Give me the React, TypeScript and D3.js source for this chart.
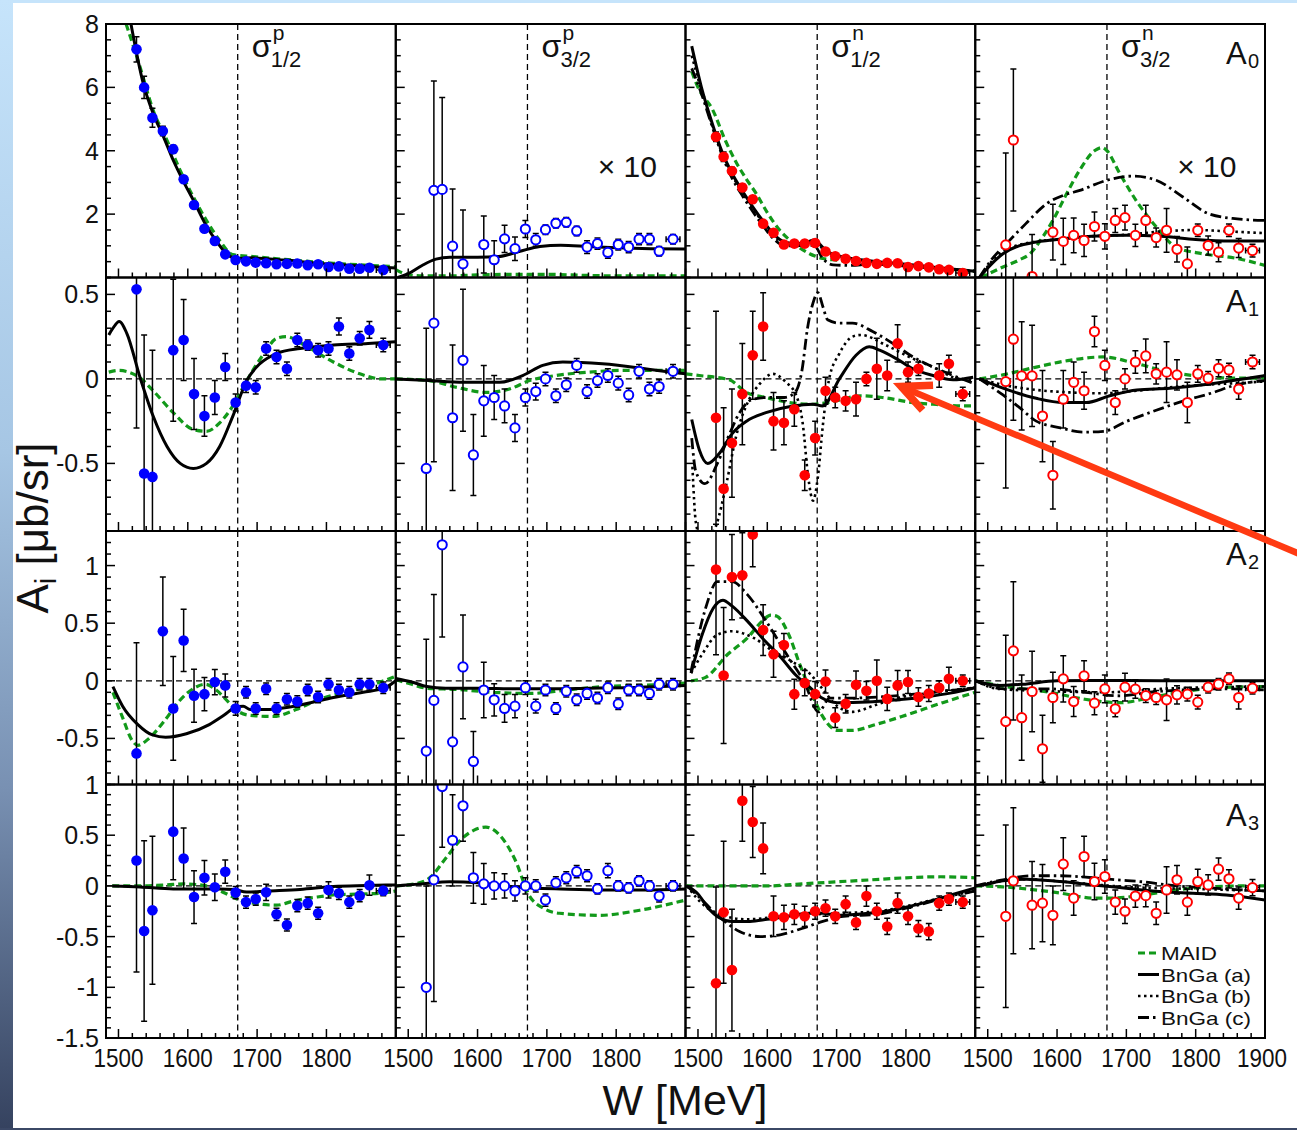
import React from "react";
import * as d3 from "d3";

// ---------- shared axes ----------
const W_BINS = [1526, 1537, 1549, 1564, 1579, 1594, 1609, 1624, 1639, 1654, 1669, 1684, 1698, 1713, 1728, 1743, 1758, 1773, 1788, 1803, 1818, 1833, 1848, 1862, 1882];
const W_HALF = [0, 0, 0, 0, 0, 0, 0, 0, 0, 0, 0, 0, 0, 0, 0, 0, 0, 0, 0, 0, 0, 0, 0, 0, 10];
const W_DOMAIN = [1482, 1900];
const THRESHOLD_W = 1672;
const X_MAJOR = [1500, 1600, 1700, 1800, 1900];
const X_MINOR_STEP = 20;

const ROW_DOMAINS = [[0, 8], [-0.9, 0.6], [-0.9, 1.3], [-1.5, 1.0]];
const ROW_MAJOR = [[2, 4, 6, 8], [-0.5, 0, 0.5], [-0.5, 0, 0.5, 1], [-1.5, -1, -0.5, 0, 0.5, 1]];
const ROW_MAJOR_LABELS = [["2", "4", "6", "8"], ["-0.5", "0", "0.5"], ["-0.5", "0", "0.5", "1"], ["-1.5", "-1", "-0.5", "0", "0.5", "1"]];
const ROW_MINOR_STEP = [0.5, 0.1, 0.1, 0.1];
const ROW_NAMES = ["A", "A", "A", "A"];
const ROW_INDEX = ["0", "1", "2", "3"];

const COL_SUP = ["p", "p", "n", "n"];
const COL_SUB = ["1/2", "3/2", "1/2", "3/2"];
const COL_COLORS = ["#0000ff", "#0000ff", "#ff0000", "#ff0000"];
const COL_FILLED = [true, false, true, false];
const COL_SCALED = [false, true, false, true];

const LEGEND_LABELS = ["MAID", "BnGa (a)", "BnGa (b)", "BnGa (c)"];

// ---------- A0 ----------
const A0_P12 = [7.2, 6.0, 5.04, 4.62, 4.05, 3.1, 2.29, 1.54, 1.15, 0.73, 0.55, 0.51, 0.47, 0.45, 0.42, 0.43, 0.44, 0.39, 0.42, 0.33, 0.35, 0.28, 0.28, 0.31, 0.24];
const A0_P12_ERR = [0.4, 0.35, 0.3, 0.15, 0.12, 0.1, 0.08, 0.07, 0.06, 0.05, 0.05, 0.04, 0.04, 0.04, 0.04, 0.04, 0.04, 0.04, 0.04, 0.04, 0.04, 0.04, 0.04, 0.04, 0.04];
const A0_P32 = [null, 2.75, 2.78, 0.99, 0.43, null, 1.04, 0.56, 1.22, 0.91, 1.53, 1.19, 1.51, 1.71, 1.74, 1.47, 0.96, 1.07, 0.79, 1.04, 0.96, 1.21, 1.21, 0.83, 1.21];
const A0_P32_ERR = [0, 3.45, 2.9, 1.8, 1.7, 0, 0.9, 0.6, 0.43, 0.37, 0.27, 0.2, 0.15, 0.15, 0.15, 0.15, 0.2, 0.18, 0.18, 0.17, 0.18, 0.18, 0.18, 0.15, 0.15];
const A0_N12 = [4.44, 3.81, 3.36, 2.84, 2.47, 1.7, 1.41, 1.04, 1.07, 1.07, 1.09, 0.82, 0.67, 0.59, 0.52, 0.46, 0.43, 0.46, 0.45, 0.33, 0.36, 0.32, 0.26, 0.24, 0.14];
const A0_N12_ERR = [0.15, 0.15, 0.12, 0.1, 0.1, 0.08, 0.07, 0.06, 0.06, 0.05, 0.05, 0.04, 0.04, 0.04, 0.04, 0.04, 0.04, 0.04, 0.04, 0.04, 0.04, 0.04, 0.04, 0.04, 0.04];
const A0_N32 = [1.03, 4.34, null, 0.03, null, 1.43, 1.14, 1.33, 1.17, 1.61, 1.3, 1.8, 1.89, 1.33, 1.8, 1.26, 1.49, 0.89, 0.43, 1.49, 1.01, 0.8, 1.49, 0.93, 0.85];
const A0_N32_ERR = [2.9, 2.24, 0, 1.33, 0, 0.88, 0.73, 0.55, 0.51, 0.46, 0.4, 0.38, 0.39, 0.35, 0.48, 0.3, 0.69, 0.4, 0.53, 0.2, 0.3, 0.3, 0.2, 0.3, 0.2];

const A0_P12_MAID = [[1511, 8.0], [1531, 6.65], [1550, 5.28], [1570, 4.33], [1589, 3.38], [1608, 2.54], [1627, 1.8], [1646, 1.17], [1665, 0.72], [1694, 0.66], [1740, 0.57], [1810, 0.45], [1900, 0.34]];
const A0_P12_A = [[1518, 8.0], [1536, 6.1], [1550, 5.18], [1565, 4.44], [1579, 3.7], [1594, 3.02], [1608, 2.44], [1625, 1.7], [1642, 1.12], [1656, 0.75], [1670, 0.6], [1692, 0.62], [1740, 0.55], [1788, 0.45], [1836, 0.38], [1900, 0.3]];
const A0_P32_MAID = [[1482, 0.25], [1495, 0.12], [1520, 0.05], [1560, 0.05], [1600, 0.08], [1650, 0.1], [1700, 0.1], [1750, 0.07], [1800, 0.05], [1900, 0.05]];
const A0_P32_A = [[1485, 0.0], [1500, 0.12], [1520, 0.38], [1540, 0.58], [1560, 0.64], [1600, 0.64], [1630, 0.66], [1660, 0.82], [1690, 0.98], [1720, 1.02], [1760, 0.98], [1800, 0.94], [1850, 0.91], [1900, 0.9]];
const A0_N12_MAID = [[1491, 6.5], [1500, 6.0], [1521, 5.3], [1540, 4.3], [1556, 3.6], [1570, 3.1], [1584, 2.65], [1600, 2.05], [1618, 1.49], [1640, 1.05], [1661, 0.75], [1680, 0.6], [1700, 0.55], [1750, 0.45], [1800, 0.38], [1850, 0.28], [1900, 0.2]];
const A0_N12_A = [[1491, 7.3], [1505, 6.0], [1520, 4.9], [1535, 3.95], [1550, 3.25], [1565, 2.7], [1580, 2.2], [1595, 1.75], [1610, 1.35], [1625, 1.12], [1640, 1.07], [1655, 1.1], [1668, 1.18], [1680, 0.95], [1690, 0.78], [1710, 0.65], [1750, 0.52], [1800, 0.42], [1850, 0.3], [1900, 0.2]];
const A0_N12_B = [[1491, 7.0], [1505, 5.9], [1520, 4.85], [1535, 3.9], [1550, 3.2], [1565, 2.65], [1580, 2.15], [1595, 1.7], [1610, 1.3], [1625, 1.08], [1640, 1.04], [1655, 1.08], [1668, 1.15], [1680, 0.9], [1690, 0.75], [1710, 0.62], [1750, 0.5], [1800, 0.4], [1850, 0.29], [1900, 0.2]];
const A0_N12_C = [[1491, 6.6], [1505, 5.8], [1520, 4.8], [1535, 3.85], [1550, 3.1], [1565, 2.55], [1580, 2.05], [1595, 1.6], [1610, 1.2], [1625, 1.0], [1640, 1.0], [1655, 1.02], [1668, 1.0], [1680, 0.6], [1695, 0.4], [1720, 0.38], [1750, 0.42], [1800, 0.36], [1850, 0.28], [1900, 0.2]];
const A0_N32_MAID = [[1490, 0.0], [1522, 0.33], [1545, 0.55], [1561, 0.75], [1580, 1.3], [1594, 1.8], [1614, 2.65], [1633, 3.4], [1654, 4.0], [1665, 4.1], [1672, 4.0], [1690, 3.3], [1715, 2.4], [1743, 1.6], [1772, 0.95], [1810, 0.75], [1860, 0.6], [1900, 0.38]];
const A0_N32_A = [[1488, 0.0], [1500, 0.3], [1522, 0.75], [1545, 1.0], [1565, 1.1], [1600, 1.2], [1650, 1.3], [1700, 1.33], [1750, 1.3], [1800, 1.2], [1850, 1.15], [1900, 1.15]];
const A0_N32_B = [[1488, 0.0], [1520, 0.8], [1560, 1.1], [1600, 1.2], [1650, 1.3], [1700, 1.35], [1750, 1.45], [1800, 1.5], [1850, 1.45], [1900, 1.4]];
const A0_N32_C = [[1488, 0.0], [1505, 0.55], [1527, 1.07], [1555, 1.7], [1585, 2.33], [1610, 2.6], [1633, 2.75], [1672, 3.07], [1710, 3.2], [1743, 3.07], [1781, 2.55], [1820, 2.0], [1860, 1.85], [1900, 1.8]];

// ---------- A1 ----------
const A1_P12 = [0.53, -0.56, -0.58, null, 0.17, 0.23, -0.09, -0.22, -0.11, 0.07, -0.14, -0.04, -0.05, 0.18, 0.13, 0.06, 0.23, 0.2, 0.17, 0.18, 0.31, 0.15, 0.24, 0.29, 0.2];
const A1_P12_ERR = [0.82, 0.82, 0.75, 0, 0.42, 0.24, 0.21, 0.12, 0.1, 0.08, 0.05, 0.04, 0.04, 0.04, 0.04, 0.04, 0.04, 0.03, 0.04, 0.04, 0.05, 0.04, 0.04, 0.05, 0.04];
const A1_P32 = [-0.53, 0.33, null, -0.23, 0.11, -0.45, -0.13, -0.11, -0.16, -0.29, -0.11, -0.075, 0.0, -0.1, -0.035, 0.08, -0.075, -0.01, 0.02, -0.025, -0.095, 0.045, -0.06, -0.045, 0.045];
const A1_P32_ERR = [0.83, 0.82, 0, 0.43, 0.42, 0.24, 0.21, 0.13, 0.1, 0.08, 0.05, 0.05, 0.04, 0.04, 0.04, 0.04, 0.04, 0.04, 0.04, 0.04, 0.04, 0.04, 0.04, 0.04, 0.04];
const A1_N12 = [-0.23, -0.65, -0.38, -0.09, 0.14, 0.31, -0.25, -0.26, -0.18, -0.57, -0.35, -0.07, -0.11, -0.13, -0.12, 0.0, 0.06, 0.02, 0.21, 0.04, 0.06, null, 0.02, 0.09, -0.09];
const A1_N12_ERR = [0.63, 0.48, 0.32, 0.3, 0.26, 0.2, 0.17, 0.13, 0.1, 0.09, 0.1, 0.08, 0.06, 0.06, 0.1, 0.04, 0.18, 0.09, 0.11, 0.06, 0.04, 0, 0.07, 0.05, 0.04];
const A1_N32 = [-0.016, 0.235, 0.018, 0.018, -0.22, -0.57, -0.12, -0.02, -0.07, 0.28, 0.08, -0.14, 0.0, 0.1, 0.136, 0.03, 0.04, 0.024, -0.14, 0.03, 0.004, 0.063, 0.053, -0.06, 0.1];
const A1_N32_ERR = [0.63, 0.48, 0.32, 0.3, 0.27, 0.2, 0.17, 0.12, 0.11, 0.09, 0.09, 0.07, 0.06, 0.066, 0.1, 0.06, 0.18, 0.09, 0.12, 0.05, 0.04, 0.05, 0.04, 0.06, 0.04];

const A1_P12_MAID = [[1486, 0.04], [1500, 0.05], [1515, 0.04], [1530, 0.01], [1550, -0.07], [1579, -0.2], [1608, -0.3], [1627, -0.31], [1646, -0.26], [1665, -0.16], [1685, -0.01], [1710, 0.15], [1728, 0.24], [1742, 0.25], [1772, 0.19], [1810, 0.1], [1848, 0.03], [1880, 0.0], [1900, 0.0]];
const A1_P12_A = [[1486, 0.26], [1492, 0.3], [1501, 0.34], [1512, 0.27], [1531, 0.01], [1550, -0.22], [1570, -0.4], [1589, -0.5], [1608, -0.53], [1627, -0.5], [1646, -0.4], [1665, -0.22], [1685, -0.01], [1704, 0.09], [1728, 0.15], [1762, 0.18], [1810, 0.2], [1860, 0.21], [1900, 0.22]];
const A1_P32_MAID = [[1482, 0.0], [1530, -0.01], [1570, -0.05], [1613, -0.08], [1646, -0.06], [1675, -0.01], [1713, 0.02], [1760, 0.04], [1808, 0.05], [1900, 0.05]];
const A1_P32_A = [[1482, 0.0], [1530, -0.01], [1580, -0.02], [1632, -0.02], [1665, 0.02], [1694, 0.08], [1723, 0.1], [1780, 0.09], [1860, 0.05], [1900, 0.03]];
const A1_N12_MAID = [[1482, 0.03], [1502, 0.02], [1545, -0.005], [1570, -0.08], [1598, -0.11], [1632, -0.14], [1666, -0.15], [1699, -0.13], [1733, -0.1], [1766, -0.11], [1810, -0.14], [1839, -0.15], [1887, -0.16], [1900, -0.16]];
const A1_N12_A = [[1491, -0.24], [1502, -0.42], [1514, -0.5], [1531, -0.44], [1550, -0.32], [1570, -0.25], [1598, -0.2], [1637, -0.16], [1666, -0.15], [1680, -0.16], [1704, 0.0], [1728, 0.14], [1747, 0.19], [1762, 0.17], [1786, 0.12], [1810, 0.06], [1839, 0.02], [1868, -0.005], [1897, 0.01]];
const A1_N12_B = [[1492, -0.52], [1497, -0.85], [1505, -0.95], [1515, -0.95], [1526, -0.87], [1541, -0.62], [1555, -0.34], [1574, -0.12], [1589, -0.03], [1608, 0.03], [1627, -0.02], [1642, -0.1], [1651, -0.26], [1659, -0.58], [1666, -0.72], [1673, -0.58], [1680, -0.28], [1689, -0.005], [1704, 0.15], [1723, 0.25], [1735, 0.26], [1771, 0.2], [1810, 0.12], [1839, 0.07], [1868, 0.01], [1897, -0.01]];
const A1_N12_C = [[1491, -0.35], [1497, -0.55], [1510, -0.62], [1528, -0.5], [1545, -0.33], [1560, -0.2], [1579, -0.12], [1600, -0.11], [1625, -0.11], [1640, -0.08], [1650, 0.05], [1658, 0.3], [1666, 0.45], [1673, 0.51], [1680, 0.43], [1687, 0.35], [1704, 0.33], [1723, 0.33], [1752, 0.28], [1781, 0.21], [1810, 0.13], [1839, 0.07], [1868, 0.02], [1900, -0.03]];
const A1_N32_MAID = [[1488, 0.0], [1522, 0.024], [1570, 0.07], [1618, 0.11], [1666, 0.13], [1715, 0.09], [1763, 0.04], [1811, 0.014], [1859, 0.004], [1900, 0.004]];
const A1_N32_A = [[1488, 0.0], [1522, -0.055], [1570, -0.115], [1609, -0.14], [1642, -0.14], [1676, -0.1], [1715, -0.065], [1763, -0.055], [1811, -0.035], [1859, -0.006], [1900, 0.02]];
const A1_N32_B = [[1488, 0.0], [1522, -0.035], [1570, -0.065], [1618, -0.08], [1666, -0.085], [1715, -0.07], [1763, -0.05], [1811, -0.035], [1859, -0.025], [1900, -0.015]];
const A1_N32_C = [[1488, 0.0], [1522, -0.095], [1546, -0.17], [1570, -0.25], [1605, -0.29], [1638, -0.315], [1667, -0.31], [1701, -0.25], [1740, -0.19], [1783, -0.13], [1822, -0.085], [1859, -0.035], [1900, -0.01]];

// ---------- A2 ----------
const A2_P12 = [-0.63, null, null, 0.43, -0.24, 0.35, -0.13, -0.116, -0.011, -0.04, -0.24, -0.1, -0.24, -0.07, -0.24, -0.16, -0.18, -0.08, -0.14, -0.03, -0.08, -0.1, -0.03, -0.03, -0.06];
const A2_P12_ERR = [0.96, 0, 0, 0.47, 0.45, 0.27, 0.23, 0.145, 0.11, 0.1, 0.06, 0.05, 0.05, 0.05, 0.05, 0.05, 0.05, 0.05, 0.05, 0.05, 0.05, 0.05, 0.05, 0.05, 0.05];
const A2_P32 = [-0.61, -0.17, 1.18, -0.53, 0.12, -0.7, -0.08, -0.165, -0.24, -0.22, -0.06, -0.22, -0.08, -0.24, -0.09, -0.165, -0.11, -0.15, -0.06, -0.2, -0.08, -0.08, -0.11, -0.03, -0.03];
const A2_P32_ERR = [0.97, 0.92, 0.8, 0.46, 0.45, 0.26, 0.24, 0.14, 0.12, 0.1, 0.06, 0.06, 0.05, 0.05, 0.05, 0.05, 0.05, 0.05, 0.05, 0.05, 0.05, 0.05, 0.05, 0.05, 0.05];
const A2_N12 = [0.965, 0.046, 0.9, 0.915, 1.27, 0.44, 0.23, 0.31, -0.116, -0.02, -0.116, -0.006, -0.32, -0.2, -0.035, -0.087, 0.0, -0.157, -0.04, -0.011, -0.14, -0.11, -0.06, 0.017, 0.0];
const A2_N12_ERR = [0.74, 0.59, 0.37, 0.37, 0.28, 0.22, 0.2, 0.1, 0.13, 0.11, 0.11, 0.1, 0.085, 0.08, 0.12, 0.08, 0.18, 0.1, 0.13, 0.1, 0.08, 0.07, 0.06, 0.1, 0.05];
const A2_N32 = [-0.354, 0.26, -0.32, -0.093, -0.59, -0.145, 0.017, -0.18, 0.043, -0.194, -0.07, -0.243, -0.055, -0.072, -0.128, -0.145, -0.165, -0.122, -0.116, -0.185, -0.055, -0.029, 0.017, -0.145, -0.064];
const A2_N32_ERR = [0.75, 0.6, 0.37, 0.35, 0.29, 0.22, 0.2, 0.13, 0.13, 0.1, 0.12, 0.07, 0.12, 0.08, 0.06, 0.06, 0.18, 0.08, 0.06, 0.06, 0.05, 0.05, 0.05, 0.1, 0.05];

const A2_P12_MAID = [[1492, -0.1], [1506, -0.32], [1520, -0.52], [1528, -0.56], [1544, -0.5], [1566, -0.35], [1587, -0.18], [1609, -0.064], [1625, -0.03], [1641, -0.08], [1658, -0.18], [1674, -0.27], [1690, -0.3], [1723, -0.31], [1756, -0.25], [1788, -0.165], [1821, -0.107], [1853, -0.06], [1900, 0.04]];
const A2_P12_A = [[1492, -0.05], [1506, -0.22], [1528, -0.38], [1549, -0.47], [1568, -0.49], [1598, -0.46], [1631, -0.38], [1652, -0.3], [1669, -0.23], [1680, -0.22], [1690, -0.25], [1712, -0.25], [1745, -0.23], [1777, -0.19], [1810, -0.145], [1853, -0.1], [1885, -0.06], [1900, 0.0]];
const A2_P32_MAID = [[1482, 0.01], [1505, -0.03], [1527, -0.065], [1570, -0.075], [1623, -0.1], [1676, -0.11], [1729, -0.08], [1782, -0.05], [1835, -0.04], [1900, -0.02]];
const A2_P32_A = [[1482, 0.02], [1505, -0.01], [1527, -0.05], [1554, -0.065], [1600, -0.065], [1653, -0.07], [1706, -0.07], [1760, -0.065], [1813, -0.06], [1866, -0.05], [1900, -0.04]];
const A2_N12_MAID = [[1490, 0.0], [1511, 0.03], [1543, 0.23], [1571, 0.37], [1593, 0.52], [1605, 0.57], [1614, 0.56], [1631, 0.4], [1647, 0.14], [1663, -0.093], [1679, -0.3], [1701, -0.43], [1723, -0.43], [1756, -0.38], [1799, -0.3], [1853, -0.19], [1900, -0.1]];
const A2_N12_A = [[1490, 0.067], [1506, 0.4], [1522, 0.63], [1536, 0.7], [1549, 0.65], [1571, 0.52], [1593, 0.37], [1620, 0.2], [1641, 0.05], [1663, -0.065], [1679, -0.15], [1701, -0.19], [1745, -0.185], [1788, -0.165], [1832, -0.136], [1864, -0.107], [1900, -0.06]];
const A2_N12_B = [[1490, 0.067], [1506, 0.23], [1528, 0.4], [1549, 0.43], [1581, 0.37], [1609, 0.255], [1635, 0.17], [1663, 0.052], [1679, -0.065], [1701, -0.22], [1723, -0.27], [1756, -0.21], [1788, -0.15], [1832, -0.107], [1900, -0.06]];
const A2_N12_C = [[1490, 0.08], [1511, 0.63], [1528, 0.86], [1549, 0.86], [1571, 0.75], [1598, 0.52], [1631, 0.2], [1653, -0.006], [1674, -0.27], [1690, -0.15], [1720, -0.15], [1772, -0.136], [1826, -0.107], [1900, -0.06]];
const A2_N32_MAID = [[1482, 0.0], [1515, -0.04], [1590, -0.1], [1640, -0.16], [1690, -0.19], [1740, -0.14], [1790, -0.087], [1840, -0.058], [1900, -0.05]];
const A2_N32_A = [[1482, 0.0], [1515, -0.04], [1550, -0.03], [1600, 0.0], [1650, 0.003], [1750, 0.0], [1900, 0.0]];
const A2_N32_B = [[1482, 0.0], [1515, -0.07], [1590, -0.09], [1670, -0.1], [1750, -0.07], [1900, -0.05]];
const A2_N32_C = [[1482, 0.0], [1525, -0.07], [1590, -0.07], [1640, -0.1], [1690, -0.13], [1740, -0.095], [1840, -0.07], [1900, -0.08]];

// ---------- A3 ----------
const A3_P12 = [0.25, -0.445, -0.24, null, 0.535, 0.27, -0.11, 0.08, -0.013, 0.14, -0.066, -0.16, -0.13, -0.063, -0.28, -0.386, -0.195, -0.17, -0.27, -0.04, -0.073, -0.16, -0.096, 0.007, -0.047];
const A3_P12_ERR = [1.1, 0.89, 0.73, 0, 0.475, 0.3, 0.26, 0.17, 0.13, 0.115, 0.06, 0.06, 0.06, 0.08, 0.06, 0.06, 0.06, 0.06, 0.06, 0.08, 0.06, 0.06, 0.06, 0.1, 0.05];
const A3_P32 = [-1.0, 0.06, 0.98, 0.45, 0.79, 0.08, 0.02, 0.0, 0.0, -0.05, 0.0, 0.0, -0.14, 0.03, 0.08, 0.14, 0.1, -0.03, 0.15, 0.0, -0.02, 0.05, 0.0, -0.1, 0.0];
const A3_P32_ERR = [1.0, 1.2, 0.6, 0.45, 0.35, 0.25, 0.2, 0.13, 0.12, 0.1, 0.08, 0.06, 0.06, 0.06, 0.06, 0.06, 0.06, 0.05, 0.07, 0.05, 0.05, 0.05, 0.05, 0.06, 0.05];
const A3_N12 = [-0.96, -0.26, -0.83, 0.84, 0.63, 0.37, -0.3, -0.31, -0.28, -0.3, -0.25, -0.22, -0.3, -0.18, -0.36, -0.1, -0.25, -0.4, -0.17, -0.3, -0.42, -0.45, -0.17, -0.13, -0.16];
const A3_N12_ERR = [0.95, 0.7, 0.6, 0.4, 0.35, 0.25, 0.2, 0.12, 0.1, 0.1, 0.08, 0.08, 0.07, 0.08, 0.07, 0.1, 0.08, 0.08, 0.1, 0.08, 0.08, 0.08, 0.07, 0.06, 0.06];
const A3_N32 = [-0.3, 0.05, null, -0.19, -0.17, -0.29, 0.215, -0.12, 0.29, 0.043, 0.092, -0.16, -0.25, -0.1, -0.096, -0.27, -0.04, 0.06, -0.16, 0.043, 0.01, 0.165, 0.07, -0.12, -0.017];
const A3_N32_ERR = [0.9, 0.72, 0, 0.43, 0.38, 0.29, 0.26, 0.17, 0.2, 0.18, 0.165, 0.12, 0.12, 0.11, 0.11, 0.11, 0.23, 0.14, 0.13, 0.12, 0.1, 0.11, 0.09, 0.11, 0.08];

const A3_P12_MAID = [[1491, 0.0], [1531, 0.0], [1570, 0.01], [1594, 0.02], [1627, 0.0], [1650, -0.06], [1675, -0.14], [1704, -0.18], [1728, -0.19], [1752, -0.15], [1786, -0.11], [1810, -0.09], [1848, -0.08], [1882, -0.07], [1900, -0.05]];
const A3_P12_A = [[1491, 0.0], [1531, -0.01], [1579, -0.03], [1646, -0.03], [1666, -0.035], [1685, -0.06], [1714, -0.05], [1762, -0.035], [1810, -0.007], [1858, 0.003], [1900, 0.01]];
const A3_P32_MAID = [[1482, 0.0], [1510, 0.02], [1531, 0.08], [1555, 0.28], [1575, 0.45], [1595, 0.55], [1612, 0.58], [1632, 0.5], [1654, 0.26], [1675, -0.1], [1695, -0.22], [1718, -0.27], [1776, -0.29], [1834, -0.24], [1900, -0.14]];
const A3_P32_A = [[1482, 0.0], [1520, 0.02], [1560, 0.04], [1600, 0.03], [1640, 0.0], [1680, -0.02], [1720, -0.03], [1780, -0.04], [1840, -0.04], [1900, -0.03]];
const A3_N12_MAID = [[1482, 0.0], [1550, 0.0], [1600, 0.0], [1650, 0.02], [1700, 0.04], [1750, 0.06], [1800, 0.08], [1850, 0.09], [1900, 0.08]];
const A3_N12_A = [[1484, 0.0], [1500, -0.08], [1515, -0.22], [1530, -0.31], [1550, -0.35], [1575, -0.35], [1600, -0.33], [1630, -0.3], [1660, -0.27], [1680, -0.27], [1700, -0.29], [1730, -0.28], [1760, -0.26], [1800, -0.21], [1840, -0.14], [1870, -0.08], [1900, -0.02]];
const A3_N12_B = [[1484, 0.0], [1510, -0.2], [1540, -0.3], [1570, -0.33], [1620, -0.3], [1670, -0.28], [1700, -0.27], [1760, -0.25], [1800, -0.2], [1850, -0.12], [1900, -0.05]];
const A3_N12_C = [[1484, 0.0], [1500, -0.1], [1530, -0.3], [1560, -0.45], [1590, -0.5], [1620, -0.48], [1650, -0.42], [1680, -0.35], [1710, -0.3], [1760, -0.28], [1800, -0.22], [1850, -0.13], [1900, -0.05]];
const A3_N32_MAID = [[1482, 0.0], [1522, -0.01], [1556, -0.03], [1604, -0.07], [1652, -0.12], [1681, -0.12], [1724, -0.09], [1772, -0.04], [1820, -0.01], [1868, 0.0], [1900, 0.0]];
const A3_N32_A = [[1482, 0.0], [1493, 0.01], [1522, 0.05], [1556, 0.066], [1604, 0.043], [1652, 0.01], [1700, -0.023], [1748, -0.056], [1796, -0.073], [1844, -0.09], [1900, -0.14]];
const A3_N32_B = [[1482, 0.0], [1522, 0.05], [1556, 0.066], [1604, 0.045], [1652, 0.015], [1700, -0.01], [1800, -0.03], [1900, -0.05]];
const A3_N32_C = [[1482, 0.0], [1522, 0.06], [1565, 0.1], [1604, 0.1], [1652, 0.08], [1686, 0.06], [1724, 0.04], [1772, 0.0], [1820, -0.02], [1868, -0.04], [1900, -0.05]];

// Grid tables assembled from the arrays above (row = A_i, column = observable)
const VALUES = [
  [A0_P12, A0_P32, A0_N12, A0_N32],
  [A1_P12, A1_P32, A1_N12, A1_N32],
  [A2_P12, A2_P32, A2_N12, A2_N32],
  [A3_P12, A3_P32, A3_N12, A3_N32],
];
const ERRORS = [
  [A0_P12_ERR, A0_P32_ERR, A0_N12_ERR, A0_N32_ERR],
  [A1_P12_ERR, A1_P32_ERR, A1_N12_ERR, A1_N32_ERR],
  [A2_P12_ERR, A2_P32_ERR, A2_N12_ERR, A2_N32_ERR],
  [A3_P12_ERR, A3_P32_ERR, A3_N12_ERR, A3_N32_ERR],
];
const MAID = [
  [A0_P12_MAID, A0_P32_MAID, A0_N12_MAID, A0_N32_MAID],
  [A1_P12_MAID, A1_P32_MAID, A1_N12_MAID, A1_N32_MAID],
  [A2_P12_MAID, A2_P32_MAID, A2_N12_MAID, A2_N32_MAID],
  [A3_P12_MAID, A3_P32_MAID, A3_N12_MAID, A3_N32_MAID],
];
const BNGA_A = [
  [A0_P12_A, A0_P32_A, A0_N12_A, A0_N32_A],
  [A1_P12_A, A1_P32_A, A1_N12_A, A1_N32_A],
  [A2_P12_A, A2_P32_A, A2_N12_A, A2_N32_A],
  [A3_P12_A, A3_P32_A, A3_N12_A, A3_N32_A],
];
const BNGA_B = [
  [null, null, A0_N12_B, A0_N32_B],
  [null, null, A1_N12_B, A1_N32_B],
  [null, null, A2_N12_B, A2_N32_B],
  [null, null, A3_N12_B, A3_N32_B],
];
const BNGA_C = [
  [null, null, A0_N12_C, A0_N32_C],
  [null, null, A1_N12_C, A1_N32_C],
  [null, null, A2_N12_C, A2_N32_C],
  [null, null, A3_N12_C, A3_N32_C],
];

// ---------- layout ----------
const WIDTH = 1297;
const HEIGHT = 1130;
const X0 = 106;
const X1 = 1265;
const Y0 = 24;
const Y1 = 1038;
const COL_W = (X1 - X0) / 4;
const ROW_H = (Y1 - Y0) / 4;
const FONT = "'Liberation Sans', Arial, Helvetica, sans-serif";
const GREEN = "#12991a";

const STYLES = {
  maid: { stroke: GREEN, width: 3.2, dash: "7,4" },
  a: { stroke: "#000", width: 3, dash: null },
  b: { stroke: "#000", width: 2.6, dash: "2.5,3.5" },
  c: { stroke: "#000", width: 2.8, dash: "11,4,2.5,4" },
};
const LEGEND_STYLE_KEYS = ["maid", "a", "b", "c"];

const xScales = [0, 1, 2, 3].map((c) =>
  d3.scaleLinear().domain(W_DOMAIN).range([X0 + c * COL_W, X0 + (c + 1) * COL_W])
);
const yScales = [0, 1, 2, 3].map((r) =>
  d3.scaleLinear().domain(ROW_DOMAINS[r]).range([Y0 + (r + 1) * ROW_H, Y0 + r * ROW_H])
);

function curvePath(c, r, pts) {
  const gen = d3
    .line()
    .x((d) => xScales[c](d[0]))
    .y((d) => yScales[r](d[1]))
    .curve(d3.curveMonotoneX);
  return gen(pts);
}

function Curve({ c, r, pts, style }) {
  if (!pts) return null;
  return (
    <path
      d={curvePath(c, r, pts)}
      fill="none"
      stroke={style.stroke}
      strokeWidth={style.width}
      strokeDasharray={style.dash || undefined}
      strokeLinejoin="round"
    />
  );
}

function Points({ r, c }) {
  const xs = xScales[c];
  const ys = yScales[r];
  const vals = VALUES[r][c];
  const errs = ERRORS[r][c];
  const color = COL_COLORS[c];
  const filled = COL_FILLED[c];
  const items = [];
  W_BINS.forEach((w, i) => {
    const v = vals[i];
    if (v == null) return;
    const e = errs[i];
    const px = xs(w);
    const py = ys(v);
    const yTop = ys(v + e);
    const yBot = ys(v - e);
    items.push(
      <g key={i}>
        {e > 0 && (
          <g stroke="#000" strokeWidth={1.5}>
            <line x1={px} x2={px} y1={yTop} y2={yBot} />
            <line x1={px - 3} x2={px + 3} y1={yTop} y2={yTop} />
            <line x1={px - 3} x2={px + 3} y1={yBot} y2={yBot} />
          </g>
        )}
        {W_HALF[i] > 0 && (
          <g stroke="#000" strokeWidth={1.5}>
            <line x1={xs(w - W_HALF[i])} x2={xs(w + W_HALF[i])} y1={py} y2={py} />
            <line x1={xs(w - W_HALF[i])} x2={xs(w - W_HALF[i])} y1={py - 3} y2={py + 3} />
            <line x1={xs(w + W_HALF[i])} x2={xs(w + W_HALF[i])} y1={py - 3} y2={py + 3} />
          </g>
        )}
        {filled ? (
          <circle cx={px} cy={py} r={5.3} fill={color} />
        ) : (
          <circle cx={px} cy={py} r={4.6} fill="#fff" stroke={color} strokeWidth={2} />
        )}
      </g>
    );
  });
  return <g>{items}</g>;
}

function Panel({ r, c }) {
  const xs = xScales[c];
  const ys = yScales[r];
  const left = X0 + c * COL_W;
  const top = Y0 + r * ROW_H;
  const bottom = top + ROW_H;
  const right = left + COL_W;
  const [lo, hi] = ROW_DOMAINS[r];
  const minorY = d3.range(Math.ceil(lo / ROW_MINOR_STEP[r] - 1e-6) * ROW_MINOR_STEP[r], hi + 1e-6, ROW_MINOR_STEP[r]);
  const minorX = d3.range(1500, W_DOMAIN[1] + 1e-6, X_MINOR_STEP);
  const isMajorY = (v) => ROW_MAJOR[r].some((m) => Math.abs(m - v) < 1e-6);
  const isMajorX = (v) => X_MAJOR.some((m) => Math.abs(m - v) < 1e-6);
  const clipId = `clip-${r}-${c}`;

  return (
    <g>
      <defs>
        <clipPath id={clipId}>
          <rect x={left} y={top} width={COL_W} height={ROW_H} />
        </clipPath>
      </defs>
      <g clipPath={`url(#${clipId})`}>
        {r > 0 && (
          <line x1={left} x2={right} y1={ys(0)} y2={ys(0)} stroke="#000" strokeWidth={1.3} strokeDasharray="6,4" />
        )}
        <line x1={xs(THRESHOLD_W)} x2={xs(THRESHOLD_W)} y1={top} y2={bottom} stroke="#000" strokeWidth={1.3} strokeDasharray="6,4" />
        <Curve c={c} r={r} pts={MAID[r][c]} style={STYLES.maid} />
        <Curve c={c} r={r} pts={BNGA_C[r][c]} style={STYLES.c} />
        <Curve c={c} r={r} pts={BNGA_B[r][c]} style={STYLES.b} />
        <Curve c={c} r={r} pts={BNGA_A[r][c]} style={STYLES.a} />
        <Points r={r} c={c} />
      </g>
      {/* ticks along the left and bottom edges, pointing inward */}
      <g stroke="#000" strokeWidth={1.5}>
        {minorY.map((v, i) => (
          <line key={`y${i}`} x1={left} x2={left + (isMajorY(v) ? 9 : 5)} y1={ys(v)} y2={ys(v)} />
        ))}
        {minorX.map((v, i) => (
          <line key={`x${i}`} x1={xs(v)} x2={xs(v)} y1={bottom} y2={bottom - (isMajorX(v) ? 9 : 5)} />
        ))}
      </g>
      <rect x={left} y={top} width={COL_W} height={ROW_H} fill="none" stroke="#000" strokeWidth={2} />
    </g>
  );
}

function ColumnTitle({ c }) {
  const x = xScales[c](THRESHOLD_W) + 14;
  return (
    <g fontFamily={FONT} fill="#111">
      <text x={x} y={Y0 + 33} fontSize={32}>σ</text>
      <text x={x + 21} y={Y0 + 16} fontSize={21}>{COL_SUP[c]}</text>
      <text x={x + 19} y={Y0 + 43} fontSize={22}>{COL_SUB[c]}</text>
      {COL_SCALED[c] && (
        <text x={X0 + c * COL_W + 202} y={Y0 + 153} fontSize={30}>× 10</text>
      )}
    </g>
  );
}

const ROW_LABEL_DY = [40, 34, 34, 41];

function RowTitle({ r }) {
  const top = Y0 + r * ROW_H;
  const x = X1 - 39;
  return (
    <g fontFamily={FONT} fill="#111">
      <text x={x} y={top + ROW_LABEL_DY[r]} fontSize={31}>{ROW_NAMES[r]}</text>
      <text x={x + 22} y={top + ROW_LABEL_DY[r] + 4} fontSize={20}>{ROW_INDEX[r]}</text>
    </g>
  );
}

function Legend() {
  const top = Y0 + 3 * ROW_H;
  const baselines = [175.5, 197, 218.5, 240];
  const widths = [56, 90, 90, 90];
  return (
    <g fontFamily={FONT} fontSize={18.5} fill="#111">
      {LEGEND_LABELS.map((lab, i) => {
        const s = STYLES[LEGEND_STYLE_KEYS[i]];
        const yb = top + baselines[i];
        return (
          <g key={lab}>
            <line
              x1={1138}
              x2={1159}
              y1={yb - 7}
              y2={yb - 7}
              stroke={s.stroke}
              strokeWidth={s.width}
              strokeDasharray={s.dash || undefined}
            />
            <text x={1161} y={yb} textLength={widths[i]} lengthAdjust="spacingAndGlyphs">{lab}</text>
          </g>
        );
      })}
    </g>
  );
}

function Arrow() {
  // annotation arrow pointing into the sigma^n_1/2, A1 panel
  const tip = [xScales[2](1793), yScales[1](-0.045)];
  const ang = Math.atan2(166, 395);
  const len = 520;
  const tail = [tip[0] + len * Math.cos(ang), tip[1] + len * Math.sin(ang)];
  const barb = 32;
  const spread = (25 * Math.PI) / 180;
  const b1 = [tip[0] + barb * Math.cos(ang - spread), tip[1] + barb * Math.sin(ang - spread)];
  const b2 = [tip[0] + barb * Math.cos(ang + spread), tip[1] + barb * Math.sin(ang + spread)];
  const col = "#ff3a12";
  return (
    <g>
      <line x1={tip[0] + 4} y1={tip[1] + 1.7} x2={tail[0]} y2={tail[1]} stroke={col} strokeWidth={6.5} />
      <path d={`M${b1[0]},${b1[1]} L${tip[0]},${tip[1]} L${b2[0]},${b2[1]}`} fill="none" stroke={col} strokeWidth={7.5} strokeLinejoin="miter" />
    </g>
  );
}

export default function App() {
  const rows = [0, 1, 2, 3];
  const cols = [0, 1, 2, 3];
  return (
    <svg
      width={WIDTH}
      height={HEIGHT}
      viewBox={`0 0 ${WIDTH} ${HEIGHT}`}
      style={{ position: "absolute", left: 0, top: 0, display: "block" }}
    >
      <defs>
        <linearGradient id="edgeGrad" x1="0" y1="0" x2="0" y2="1">
          <stop offset="0" stopColor="#c6e4fb" />
          <stop offset="0.4" stopColor="#a6c6e4" />
          <stop offset="0.7" stopColor="#7890b2" />
          <stop offset="1" stopColor="#35425f" />
        </linearGradient>
      </defs>
      <rect x={0} y={0} width={WIDTH} height={HEIGHT} fill="#fff" />
      <rect x={0} y={0} width={WIDTH} height={3} fill="#c6e4fb" />
      <rect x={0} y={0} width={13} height={HEIGHT} fill="url(#edgeGrad)" />
      <rect x={0} y={HEIGHT - 2} width={WIDTH} height={2} fill="#3b4866" />

      {rows.map((r) => cols.map((c) => <Panel key={`${r}-${c}`} r={r} c={c} />))}

      {/* y tick labels */}
      <g fontFamily={FONT} fontSize={25} fill="#111" textAnchor="end">
        {rows.map((r) =>
          ROW_MAJOR[r].map((v, i) => (
            <text key={`${r}-${i}`} x={99} y={yScales[r](v)} dy="0.36em">
              {ROW_MAJOR_LABELS[r][i]}
            </text>
          ))
        )}
      </g>
      {/* x tick labels */}
      <g fontFamily={FONT} fontSize={25} fill="#111" textAnchor="middle">
        {cols.map((c) =>
          X_MAJOR.filter((w) => w < 1900 || c === 3).map((w) => (
            <text
              key={`${c}-${w}`}
              x={w === 1900 ? xScales[c](w) - 3 : xScales[c](w)}
              y={1067}
              textLength={50}
              lengthAdjust="spacingAndGlyphs"
            >
              {w}
            </text>
          ))
        )}
      </g>

      {cols.map((c) => (
        <ColumnTitle key={c} c={c} />
      ))}
      {rows.map((r) => (
        <RowTitle key={r} r={r} />
      ))}
      <Legend />

      {/* axis titles */}
      <text x={685} y={1115} fontFamily={FONT} fontSize={43} textAnchor="middle" fill="#111">
        W [MeV]
      </text>
      <text transform="translate(48,528) rotate(-90)" fontFamily={FONT} fontSize={44} textAnchor="middle" fill="#111">
        A<tspan fontSize={29} dy={8}>i</tspan>
        <tspan dy={-8}> [μb/sr]</tspan>
      </text>

      <Arrow />
    </svg>
  );
}
